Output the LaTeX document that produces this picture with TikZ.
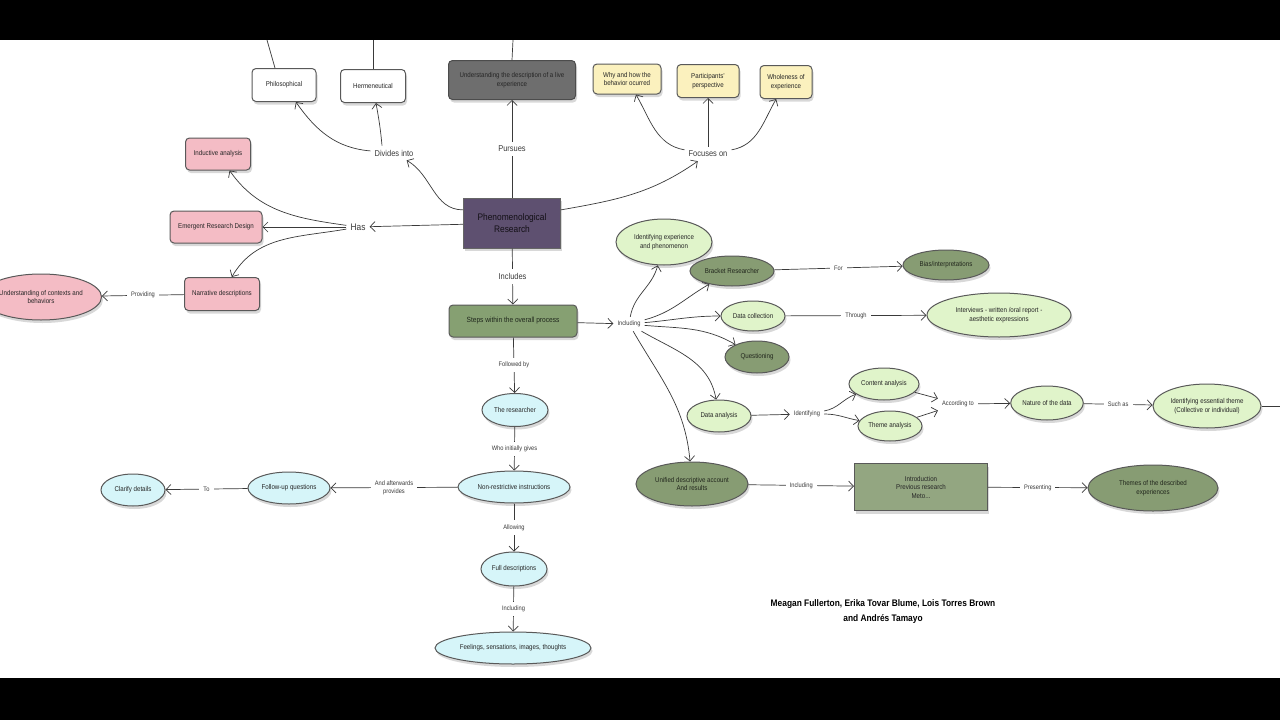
\documentclass[tikz,border=0pt]{standalone}
\usepackage{fontspec}
\setmainfont{Liberation Sans}[FakeStretch=0.88]
\usetikzlibrary{positioning,arrows.meta,shapes.geometric,shadows}

\definecolor{pinkfill}{HTML}{F4BCC5}
\definecolor{yelfill}{HTML}{FBF1BE}
\definecolor{purpfill}{HTML}{5E5070}
\definecolor{stepfill}{HTML}{86A072}
\definecolor{lgfill}{HTML}{E0F4CA}
\definecolor{dgfill}{HTML}{879C73}
\definecolor{cyfill}{HTML}{D6F5F9}
\definecolor{inkcol}{HTML}{3A3A3A}

\begin{document}
\begin{tikzpicture}[x=1pt, y=-1pt,
  base/.style={draw=black!65, line width=1pt, align=center, text=black!85,
               font=\fontsize{7}{8.5}\selectfont, inner sep=1pt,
               drop shadow={opacity=0.3, shadow xshift=1.5pt, shadow yshift=-3pt}},
  rbox/.style={base, rectangle, rounded corners=4pt},
  ell/.style={base, ellipse},
  wbox/.style={rbox, fill=white},
  ybox/.style={rbox, fill=yelfill},
  pbox/.style={rbox, fill=pinkfill},
  gbox/.style={rbox, fill=black!57, text=black!85, draw=black!70},
  purp/.style={base, rectangle, fill=purpfill, text=black!80!purpfill, draw=black!60,
               font=\fontsize{9.5}{12}\selectfont},
  sbox/.style={rbox, fill=stepfill, text=black!75!stepfill, font=\fontsize{7.5}{9}\selectfont},
  lg/.style={ell, fill=lgfill},
  dg/.style={ell, fill=dgfill, text=black!75!dgfill},
  cy/.style={ell, fill=cyfill},
  pell/.style={ell, fill=pinkfill},
  lbl/.style={font=\fontsize{6.5}{8}\selectfont, fill=white, inner sep=4pt, align=center, text=inkcol},
  biglbl/.style={lbl, font=\fontsize{8.5}{10}\selectfont},
  arr/.style={-{Straight Barb[length=5pt, width=10pt]}, line width=0.7pt, draw=inkcol},
  plain/.style={line width=0.7pt, draw=inkcol}
]
  \useasboundingbox (0,0) rectangle (1280,720);
  \fill[white] (0,0) rectangle (1280,720);

  % top row
  \node[wbox, minimum width=64pt, minimum height=33pt] (phil) at (284,85) {Philosophical};
  \node[wbox, minimum width=65pt, minimum height=33pt] (herm) at (373,86) {Hermeneutical};
  \node[gbox, minimum width=127pt, minimum height=39pt] (und) at (512,80)
       {Understanding the description of a live\\experience};
  \node[ybox, minimum width=68pt, minimum height=30pt] (why) at (627,79) {Why and how the\\behavior ocurred};
  \node[ybox, minimum width=62pt, minimum height=33pt] (part) at (708,81) {Participants'\\perspective};
  \node[ybox, minimum width=52pt, minimum height=33pt] (whole) at (786,82) {Wholeness of\\experience};

  \node[biglbl] (div) at (394,153) {Divides into};
  \node[biglbl] (foc) at (708,154) {Focuses on};
  \node[biglbl, font=\fontsize{9.5}{11}\selectfont] (has) at (358,227) {Has};

  % centre
  \node[purp, minimum width=97pt, minimum height=50pt] (pr) at (512,223) {Phenomenological\\Research};
  \node[sbox, minimum width=128pt, minimum height=32pt] (steps) at (513,321) {Steps within the overall process};

  % left, pink
  \node[pbox, minimum width=65pt, minimum height=32pt] (ind) at (218,154) {Inductive analysis};
  \node[pbox, minimum width=92pt, minimum height=32pt] (emer) at (216,227) {Emergent Research Design};
  \node[pbox, minimum width=75pt, minimum height=33pt] (narr) at (222,294) {Narrative descriptions};
  \node[pell, minimum width=112pt, minimum height=46pt] (ustd) at (41,297)
       {Understanding of contexts and\\behaviors};

  % down the middle, cyan
  \node[cy, minimum width=66pt, minimum height=33pt] (res) at (515,410) {The researcher};
  \node[cy, minimum width=112pt, minimum height=32pt] (nonr) at (514,487) {Non-restrictive instructions};
  \node[cy, minimum width=82pt, minimum height=32pt] (fup) at (289,488) {Follow-up questions};
  \node[cy, minimum width=64pt, minimum height=32pt] (clar) at (133,490) {Clarify details};
  \node[cy, minimum width=66pt, minimum height=34pt] (full) at (514,569) {Full descriptions};
  \node[cy, minimum width=156pt, minimum height=32pt] (feel) at (513,648) {Feelings, sensations, images, thoughts};

  % right, green
  \node[lbl] (inc1) at (629,324) {Including};
  \node[lg, minimum width=96pt, minimum height=46pt] (idexp) at (664,242) {Identifying experience\\and phenomenon};
  \node[dg, minimum width=84pt, minimum height=30pt] (brk) at (732,271) {Bracket Researcher};
  \node[dg, minimum width=86pt, minimum height=30pt] (bias) at (946,265) {Bias/interpretations};
  \node[lg, minimum width=64pt, minimum height=30pt] (dcol) at (753,316) {Data collection};
  \node[lg, minimum width=144pt, minimum height=44pt] (intv) at (999,315)
       {Interviews - written /oral report -\\aesthetic expressions};
  \node[dg, minimum width=64pt, minimum height=32pt] (quest) at (757,357) {Questioning};
  \node[lg, minimum width=64pt, minimum height=32pt] (dana) at (719,416) {Data analysis};
  \node[lbl] (iden) at (807,414) {Identifying};
  \node[lg, minimum width=70pt, minimum height=32pt] (cont) at (884,384) {Content analysis};
  \node[lg, minimum width=64pt, minimum height=30pt] (theme) at (890,426) {Theme analysis};
  \node[lbl] (acc) at (958,404) {According to};
  \node[lg, minimum width=72pt, minimum height=34pt] (nat) at (1047,403) {Nature of the data};
  \node[lg, minimum width=108pt, minimum height=44pt] (ess) at (1207,406)
       {Identifying essential theme\\(Collective or individual)};
  \node[dg, minimum width=112pt, minimum height=44pt] (unif) at (692,484) {Unified descriptive account\\And results};
  \node[base, rectangle, fill=dgfill!90!white, minimum width=133pt, minimum height=47pt] (intro) at (921,487)
       {Introduction\\Previous research\\Meto...};
  \node[dg, minimum width=130pt, minimum height=46pt] (themes) at (1153,488) {Themes of the described\\experiences};

  \node[font=\bfseries\fontsize{9.5}{15}\selectfont, align=center] (auth) at (883,612)
       {Meagan Fullerton, Erika Tovar Blume, Lois Torres Brown\\and Andr\'es Tamayo};

  % free ends
  \coordinate (philtop) at (267,40);
  \coordinate (hermtop) at (373,40);
  \coordinate (undtop) at (513,40);
  \coordinate (essout) at (1280,406);

  \draw[plain] ([xshift=-9pt]phil.north) -- (philtop);
  \draw[plain] (herm.north) -- (hermtop);
  \draw[plain] (und.north) -- (undtop);

  \draw[arr] (pr.165) to[out=180, in=-30] (div);
  \draw[arr] (div) to[out=175, in=-55] (phil);
  \draw[arr] ([xshift=-12pt]div.north) to[out=95, in=-80] (herm);
  \draw[arr] (pr) -- node[biglbl] {Pursues} (und);
  \draw[arr] (pr.15) to[out=10, in=-145] (foc);
  \draw[arr] (foc) to[out=170, in=-60] (why);
  \draw[arr] (foc) -- (part);
  \draw[arr] (foc) to[out=10, in=-120] (whole);

  \draw[arr] (pr) -- (has);
  \draw[arr] (has) to[out=172, in=-55] (ind);
  \draw[arr] (has) -- (emer);
  \draw[arr] (has) to[out=190, in=60] (narr);
  \draw[arr] (narr) -- node[lbl] {Providing} (ustd);

  \draw[arr] (pr) -- node[biglbl] {Includes} (steps);
  \draw[arr] (steps) -- (inc1);
  \draw[arr] (inc1) to[out=80, in=-105] (idexp);
  \draw[arr] (inc1) to[out=15, in=-150] (brk);
  \draw[arr] (inc1) to[out=5, in=180] (dcol);
  \draw[arr] (inc1) to[out=-5, in=150] (quest);
  \draw[arr] (inc1) to[out=-30, in=100] (dana);
  \draw[arr] (inc1) to[out=-60, in=95] (unif);

  \draw[arr] (brk) -- node[lbl] {For} (bias);
  \draw[arr] (dcol) -- node[lbl] {Through} (intv);
  \draw[arr] (dana) -- (iden);
  \draw[arr] (iden) to[out=10, in=-160] (cont);
  \draw[arr] (iden) to[out=0, in=170] (theme);
  \draw[arr] (cont) -- (acc);
  \draw[arr] (theme) -- (acc);
  \draw[arr] (acc) -- (nat);
  \draw[arr] (nat) -- node[lbl] {Such as} (ess);
  \draw[plain] (ess) -- (essout);
  \draw[arr] (unif) -- node[lbl] {Including} (intro);
  \draw[arr] (intro) -- node[lbl] {Presenting} (themes);

  \draw[arr] (steps) -- node[lbl] {Followed by} (res);
  \draw[arr] (res) -- node[lbl] {Who initially gives} (nonr);
  \draw[arr] (nonr) -- node[lbl] {And afterwards\\provides} (fup);
  \draw[arr] (fup) -- node[lbl] {To} (clar);
  \draw[arr] (nonr) -- node[lbl] {Allowing} (full);
  \draw[arr] (full) -- node[lbl] {Including} (feel);

  % letterbox bars
  \fill[black] (0,0) rectangle (1280,40);
  \fill[black] (0,678) rectangle (1280,720);
\end{tikzpicture}
\end{document}
